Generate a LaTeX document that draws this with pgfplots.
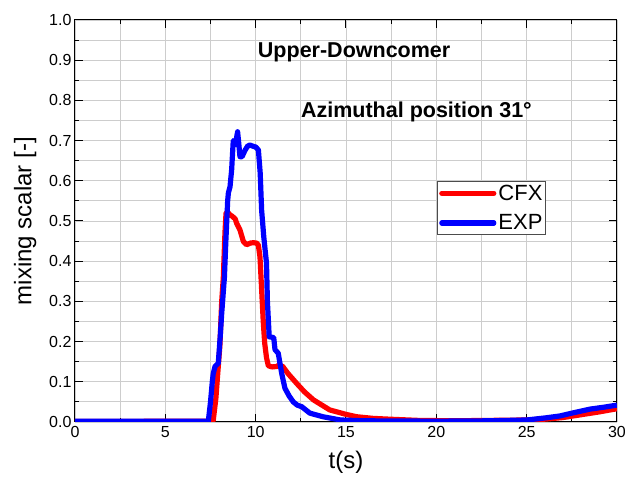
\documentclass[border=0pt]{standalone}
\usepackage{fontspec}
\setmainfont{Liberation Sans}
\usepackage{pgfplots}
\pgfplotsset{compat=1.18}
\definecolor{cfxred}{RGB}{255,0,0}
\definecolor{expblue}{RGB}{0,0,255}
\definecolor{gridgray}{RGB}{205,205,205}
\begin{document}
\begin{tikzpicture}
\begin{axis}[
  scale only axis,
  width=542pt, height=402pt,
  xmin=0, xmax=30, ymin=0, ymax=1,
  xtick={0,5,...,30},
  ytick={0,0.1,...,1.0},
  minor x tick num=1,
  minor y tick num=1,
  grid=both,
  major grid style={gridgray, line width=0.8pt},
  minor grid style={gridgray, line width=0.8pt},
  axis line style={black, line width=1pt},
  tick align=inside,
  tick pos=both,
  major tick length=8pt,
  minor tick length=4pt,
  tick style={black, line width=1pt},
  /pgf/number format/assume math mode=true,
  yticklabel style={/pgf/number format/.cd, fixed, fixed zerofill, precision=1},
  ticklabel style={font=\fontsize{16}{16}\selectfont},
  xticklabel style={yshift=-1pt},
  xlabel={t(s)},
  ylabel={mixing scalar [-]},
  xlabel style={font=\fontsize{24}{24}\selectfont, yshift=-6pt},
  ylabel style={font=\fontsize{24}{24}\selectfont, yshift=6pt},
  legend style={at={(axis cs:20.05,0.6)}, anchor=north west,
    draw=black!70, line width=1pt, fill=white,
    font=\fontsize{22}{22}\selectfont,
    inner sep=1.5pt, row sep=9pt},
  legend cell align=left,
  legend image code/.code={\draw[#1, line cap=round] (0pt,0pt) -- (52pt,0pt);},
  clip=true,
]
\addplot[cfxred, line width=5.2pt, line join=round] coordinates {
(0,0.001) (2,0.001) (5,0.002) (7,0.002) (7.5,0.002) (7.65,0.003)
(7.8,0.06) (7.9,0.12) (8.02,0.19) (8.12,0.30) (8.21,0.36) (8.3,0.47)
(8.36,0.52) (8.45,0.522) (8.58,0.515) (8.7,0.512) (8.87,0.505) (8.95,0.494)
(9.13,0.478) (9.32,0.449) (9.5,0.441) (9.7,0.445) (9.87,0.446) (10.05,0.445)
(10.15,0.44) (10.24,0.41) (10.33,0.33) (10.42,0.25) (10.5,0.196) (10.6,0.16)
(10.7,0.14) (10.9,0.137) (11.16,0.138) (11.3,0.142) (11.5,0.138) (11.8,0.12)
(12.27,0.096) (12.7,0.075) (13.2,0.055) (14.1,0.03) (15.0,0.019) (15.6,0.013)
(16.5,0.009) (17.4,0.007) (19,0.004) (21,0.003) (23,0.004) (25,0.005)
(26,0.007) (27,0.011) (28,0.018) (29,0.025) (30,0.033)
};
\addlegendentry{CFX}
\addplot[expblue, line width=5.2pt, line join=round] coordinates {
(0,0.002) (3,0.002) (6,0.002) (7.38,0.002) (7.5,0.05) (7.6,0.10)
(7.65,0.12) (7.75,0.138) (7.93,0.146) (8.05,0.22) (8.12,0.27) (8.27,0.36)
(8.35,0.45) (8.45,0.55) (8.49,0.57) (8.58,0.585) (8.67,0.627) (8.76,0.70)
(8.88,0.69) (9.0,0.722) (9.05,0.70) (9.13,0.66) (9.25,0.66) (9.4,0.675)
(9.55,0.686) (9.68,0.689) (9.85,0.686) (10.0,0.684) (10.15,0.677) (10.25,0.62)
(10.33,0.527) (10.45,0.46) (10.6,0.395) (10.65,0.30) (10.75,0.212) (11.0,0.21)
(11.07,0.18) (11.25,0.171) (11.44,0.121) (11.62,0.084) (11.85,0.065) (12.08,0.05)
(12.3,0.042) (12.55,0.038) (13.0,0.022) (13.73,0.013) (14.7,0.005) (16,0.003)
(20,0.002) (23,0.003) (25,0.005) (26,0.01) (26.84,0.015) (27.5,0.022)
(28.5,0.032) (29.3,0.037) (30,0.042)
};
\addlegendentry{EXP}
\node[font=\bfseries\fontsize{21.5}{21.5}\selectfont] at (axis cs:15.45,0.92) {Upper-Downcomer};
\node[font=\bfseries\fontsize{21.5}{21.5}\selectfont] at (axis cs:18.9,0.771) {Azimuthal position 31°};
\end{axis}
\pgfresetboundingbox
\path[use as bounding box] (-75pt,-62pt) rectangle (550pt,422pt);
\end{tikzpicture}
\end{document}
